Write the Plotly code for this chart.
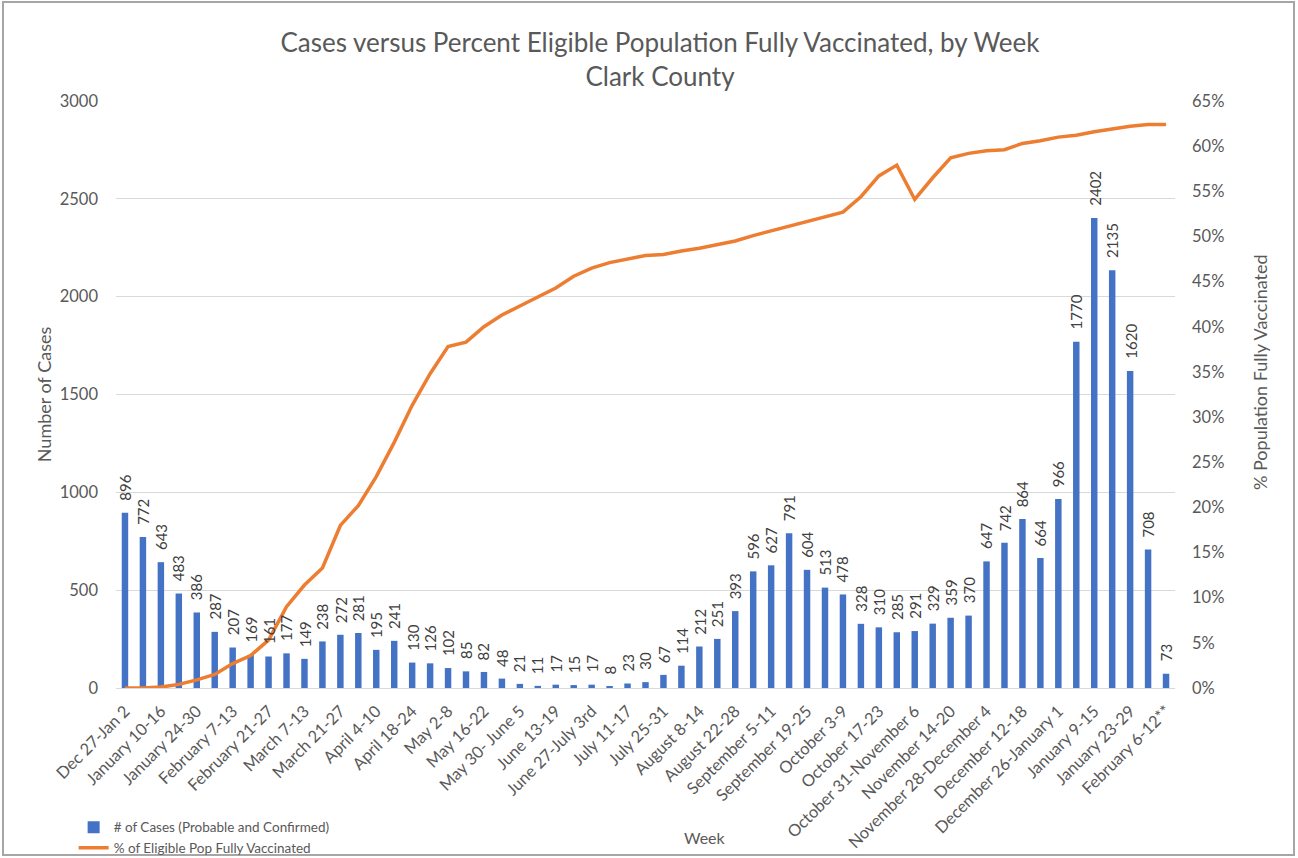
import plotly.graph_objects as go

weeks = ["Dec 27-Jan 2", "January 3-9", "January 10-16", "January 17-23", "January 24-30",
         "January 31-February 6", "February 7-13", "February 14-20", "February 21-27",
         "February 28-March 6", "March 7-13", "March 14-20", "March 21-27", "March 28-April 3",
         "April 4-10", "April 11-17", "April 18-24", "April 25-May 1", "May 2-8", "May 9-15",
         "May 16-22", "May 23-29", "May 30- June 5", "June 6-12", "June 13-19", "June 20-26",
         "June 27-July 3rd", "July 4-10", "July 11-17", "July 18-24", "July 25-31", "August 1-7",
         "August 8-14", "August 15-21", "August 22-28", "August 29-September 4", "September 5-11",
         "September 12-18", "September 19-25", "September 26-October 2", "October 3-9",
         "October 10-16", "October 17-23", "October 24-30", "October 31-November 6",
         "November 7-13", "November 14-20", "November 21-27", "November 28-December 4",
         "December 5-11", "December 12-18", "December 19-25", "December 26-January 1",
         "January 2-8", "January 9-15", "January 16-22", "January 23-29", "January 30-February 5",
         "February 6-12**"]

cases = [896, 772, 643, 483, 386, 287, 207, 169, 161, 177, 149, 238, 272, 281, 195, 241, 130,
         126, 102, 85, 82, 48, 21, 11, 17, 15, 17, 8, 23, 30, 67, 114, 212, 251, 393, 596, 627,
         791, 604, 513, 478, 328, 310, 285, 291, 329, 359, 370, 647, 742, 864, 664, 966, 1770,
         2402, 2135, 1620, 708, 73]

pct_vaccinated = [0.0, 0.0, 0.1, 0.4, 0.9, 1.5, 2.7, 3.6, 5.3, 9.0, 11.4, 13.3, 18.0, 20.2, 23.4,
                  27.2, 31.3, 34.8, 37.8, 38.3, 40.0, 41.3, 42.3, 43.3, 44.3, 45.6, 46.5, 47.1,
                  47.5, 47.9, 48.0, 48.4, 48.7, 49.1, 49.5, 50.1, 50.6, 51.1, 51.7, 52.2, 52.7,
                  54.4, 56.7, 57.9, 54.1, 56.5, 58.7, 59.2, 59.5, 59.6, 60.3, 60.6, 61.0, 61.2,
                  61.6, 61.9, 62.2, 62.4, 62.4]

shown_ticks = weeks[::2]

FONT = "Lato"
GRAY = "#595959"

# plot area in pixels
L, R, T, B = 116, 1175, 101, 688
PW, PH = R - L, B - T


def px(xp):
    return (xp - L) / PW


def py(yp):
    return (B - yp) / PH


fig = go.Figure()
fig.add_trace(go.Bar(
    x=weeks, y=cases, name="# of Cases (Probable and Confirmed)",
    marker=dict(color="#4472C4", line=dict(width=0)),
    yaxis="y",
))
fig.add_trace(go.Scatter(
    x=weeks, y=[p / 100 for p in pct_vaccinated], name="% of Eligible Pop Fully Vaccinated",
    mode="lines", line=dict(color="#ED7D31", width=3.5),
    yaxis="y2",
))

annotations = []
for w, c in zip(weeks, cases):
    annotations.append(dict(
        x=w, y=c, xref="x", yref="y", text=str(c), textangle=-90,
        showarrow=False, yanchor="bottom", xanchor="center", yshift=10,
        font=dict(family=FONT, size=15, color="#404040"),
    ))
annotations.append(dict(
    x=px(705), y=py(837), xref="paper", yref="paper", text="Week", showarrow=False,
    font=dict(family=FONT, size=16, color=GRAY), xanchor="center", yanchor="middle",
))
annotations.append(dict(
    x=px(1260), y=py(372), xref="paper", yref="paper", text="% Population Fully Vaccinated",
    textangle=-90, showarrow=False, xanchor="center", yanchor="middle",
    font=dict(family=FONT, size=18, color=GRAY),
))

fig.update_layout(
    width=1298, height=858,
    margin=dict(l=L, r=1298 - R, t=T, b=858 - B, autoexpand=False),
    paper_bgcolor="white", plot_bgcolor="white",
    title=dict(
        text="Cases versus Percent Eligible Population Fully Vaccinated, by Week<br>Clark County",
        x=660 / 1298, xanchor="center", y=1 - 52 / 858, yanchor="middle",
        font=dict(family=FONT, size=26, color=GRAY),
    ),
    bargap=0.64,
    showlegend=True,
    legend=dict(
        x=-0.04, y=-0.211, xanchor="left", yanchor="top", orientation="v",
        font=dict(family=FONT, size=13.5, color=GRAY), bgcolor="rgba(0,0,0,0)",
        tracegroupgap=0, itemwidth=30,
    ),
    xaxis=dict(
        type="category", tickmode="array", tickvals=shown_ticks, ticktext=shown_ticks,
        tickangle=-45, tickfont=dict(family=FONT, size=16.5, color=GRAY),
        showgrid=False, showline=True, linecolor="#D9D9D9", linewidth=1, ticks="",
        range=[-0.5, len(weeks) - 0.5], automargin=False, ticklabelstandoff=6,
    ),
    yaxis=dict(
        range=[0, 3000], dtick=500, tickfont=dict(family=FONT, size=16.5, color=GRAY),
        showgrid=True, gridcolor="#D9D9D9", gridwidth=1, zeroline=False, ticks="",
        ticklabelstandoff=17, automargin=False,
        title=dict(text="Number of Cases", font=dict(family=FONT, size=18, color=GRAY), standoff=3),
    ),
    yaxis2=dict(
        range=[0, 0.65], dtick=0.05, tickformat=".0%", overlaying="y", side="right",
        tickfont=dict(family=FONT, size=16.5, color=GRAY), showgrid=False, zeroline=False,
        ticks="", ticklabelstandoff=16, automargin=False,
    ),
    annotations=annotations,
    shapes=[dict(type="rect", xref="paper", yref="paper",
                 x0=px(3), x1=px(1294), y0=py(855), y1=py(2),
                 line=dict(color="#A6A6A6", width=2), layer="below")],
)

fig.write_html("out.html", config={"displayModeBar": False},
               post_script="document.body.style.margin='0';")
